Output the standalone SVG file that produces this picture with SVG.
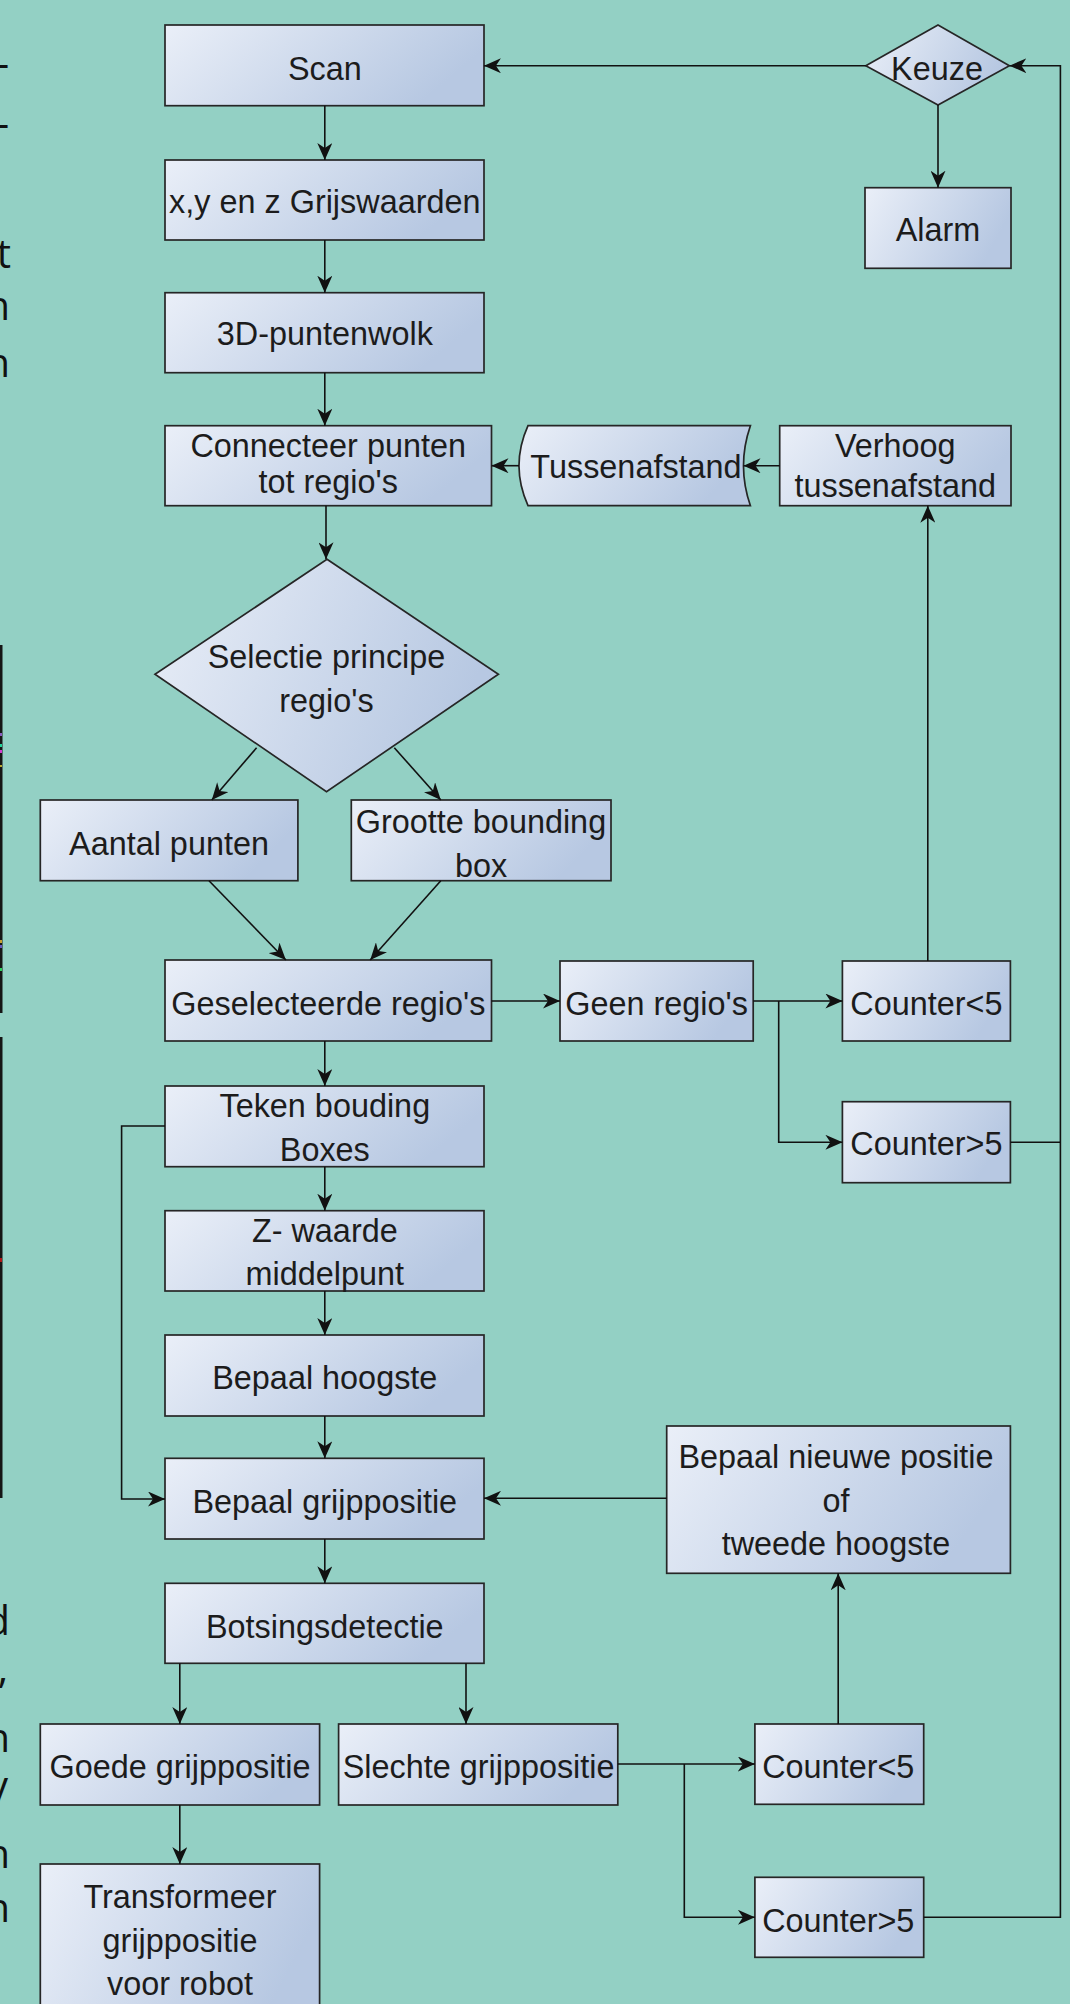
<svg xmlns="http://www.w3.org/2000/svg" width="1070" height="2004" viewBox="0 0 1070 2004">
<style>
.box{fill:url(#g);stroke:#262626;stroke-width:1.7}
.t{font-family:"Liberation Sans",Arial,sans-serif;font-size:32.4px;fill:#1c1c1c;text-anchor:middle}
.frag{font-family:"Open Sans","Noto Sans",sans-serif;font-size:40px;fill:#111;text-anchor:end}
.c{fill:none;stroke:#111;stroke-width:1.6}
.a{marker-end:url(#arr)}
</style>
<defs>
<linearGradient id="g" x1="0" y1="0" x2="1" y2="0.3">
<stop offset="0" stop-color="#eaeff8"/>
<stop offset="1" stop-color="#b7c8e2"/>
</linearGradient>
<marker id="arr" markerUnits="userSpaceOnUse" viewBox="0 0 17 15" markerWidth="17" markerHeight="15" refX="17" refY="7.5" orient="auto">
<path d="M0,0 L17,7.5 L0,15 L5,7.5 Z" fill="#111"/>
</marker>
</defs>
<rect x="0" y="0" width="1070" height="2004" fill="#93d0c4"/>

<g id="edge-fragments">
<text class="frag" x="9" y="77">-</text>
<text class="frag" x="9" y="137">-</text>
<text class="frag" x="11" y="268">t</text>
<text class="frag" x="10" y="320">n</text>
<text class="frag" x="10" y="377">n</text>
<text class="frag" x="10" y="1635">d</text>
<text class="frag" x="8" y="1683">,</text>
<text class="frag" x="10" y="1752">n</text>
<text class="frag" x="8" y="1800">y</text>
<text class="frag" x="10" y="1868">n</text>
<text class="frag" x="10" y="1922">n</text>
<rect x="0" y="645" width="2.5" height="368" fill="#151515"/>
<rect x="0" y="1037" width="2.5" height="461" fill="#151515"/>
<rect x="0" y="733" width="2" height="3" fill="#8a5cc0"/>
<rect x="0" y="744" width="2" height="3" fill="#22d39a"/>
<rect x="0" y="750" width="2" height="3" fill="#d23cd0"/>
<rect x="0" y="765" width="2" height="2" fill="#b8a830"/>
<rect x="0" y="940" width="2" height="3" fill="#c8a030"/>
<rect x="0" y="945" width="2" height="3" fill="#6a5cc0"/>
<rect x="0" y="968" width="2" height="3" fill="#30d060"/>
<rect x="0" y="1258" width="2" height="4" fill="#b01818"/>
</g>

<g id="n-scan"><rect class="box" x="165" y="25" width="319" height="80.7"/><text class="t" x="324.8" y="80">Scan</text></g>
<g id="n-xyz"><rect class="box" x="165" y="160" width="319" height="80"/><text class="t" x="324.8" y="213.3">x,y en z Grijswaarden</text></g>
<g id="n-3d"><rect class="box" x="165" y="292.7" width="319" height="80"/><text class="t" x="324.8" y="345">3D-puntenwolk</text></g>
<g id="n-connecteer"><rect class="box" x="165" y="425.7" width="326.5" height="80"/><text class="t" x="328.2" y="456.7">Connecteer punten</text><text class="t" x="328.2" y="492.7">tot regio's</text></g>
<g id="n-tussenafstand"><path class="box" d="M528,425.7 H750.4 Q736.6,465.7 750.4,505.7 H528 Q510,465.7 528,425.7 Z"/><text class="t" x="636" y="478">Tussenafstand</text></g>
<g id="n-verhoog"><rect class="box" x="779.7" y="425.7" width="231.3" height="80"/><text class="t" x="895.3" y="456.7">Verhoog</text><text class="t" x="895.3" y="496.7">tussenafstand</text></g>
<g id="n-keuze"><path class="box" d="M938,25 L1009.4,65.7 L938,105 L865.8,65.7 Z"/><text class="t" x="937" y="80">Keuze</text></g>
<g id="n-alarm"><rect class="box" x="865" y="187.7" width="146" height="80.6"/><text class="t" x="938" y="240.7">Alarm</text></g>
<g id="n-selectie"><path class="box" d="M327,559.3 L498.4,674.3 L326.5,791.7 L155,674.3 Z"/><text class="t" x="326.5" y="668.3">Selectie principe</text><text class="t" x="326.5" y="711.7">regio's</text></g>
<g id="n-aantal"><rect class="box" x="40.3" y="800" width="257.6" height="80.7"/><text class="t" x="169" y="855">Aantal punten</text></g>
<g id="n-grootte"><rect class="box" x="351.3" y="800" width="259.7" height="80.7"/><text class="t" x="481" y="833.3">Grootte bounding</text><text class="t" x="481" y="876.7">box</text></g>
<g id="n-geselecteerde"><rect class="box" x="165" y="960" width="326.5" height="81"/><text class="t" x="328.4" y="1015">Geselecteerde regio's</text></g>
<g id="n-geen"><rect class="box" x="560" y="961" width="193.2" height="80"/><text class="t" x="656.6" y="1015">Geen regio's</text></g>
<g id="n-counter-lt-1"><rect class="box" x="842.4" y="961" width="168" height="80"/><text class="t" x="926.4" y="1015">Counter&lt;5</text></g>
<g id="n-counter-gt-1"><rect class="box" x="842.4" y="1101.7" width="168" height="81"/><text class="t" x="926.4" y="1155">Counter&gt;5</text></g>
<g id="n-teken"><rect class="box" x="165" y="1086" width="319" height="80.7"/><text class="t" x="324.8" y="1117.3">Teken bouding</text><text class="t" x="324.8" y="1160.7">Boxes</text></g>
<g id="n-zwaarde"><rect class="box" x="165" y="1210.7" width="319" height="80.3"/><text class="t" x="324.8" y="1241.7">Z- waarde</text><text class="t" x="324.8" y="1285">middelpunt</text></g>
<g id="n-hoogste"><rect class="box" x="165" y="1335" width="319" height="81"/><text class="t" x="324.8" y="1389">Bepaal hoogste</text></g>
<g id="n-grijppositie"><rect class="box" x="165" y="1458.3" width="319" height="80.7"/><text class="t" x="324.8" y="1512.7">Bepaal grijppositie</text></g>
<g id="n-nieuwe"><rect class="box" x="666.7" y="1426" width="343.7" height="147.3"/><text class="t" x="836" y="1468.3">Bepaal nieuwe positie</text><text class="t" x="836" y="1511.7">of</text><text class="t" x="836" y="1555">tweede hoogste</text></g>
<g id="n-botsing"><rect class="box" x="165" y="1583.3" width="319" height="80"/><text class="t" x="324.8" y="1638">Botsingsdetectie</text></g>
<g id="n-goede"><rect class="box" x="40.3" y="1724" width="279.3" height="81"/><text class="t" x="180" y="1778.3">Goede grijppositie</text></g>
<g id="n-slechte"><rect class="box" x="338.6" y="1724" width="279.2" height="81"/><text class="t" x="478.6" y="1778.3">Slechte grijppositie</text></g>
<g id="n-transformeer"><rect class="box" x="40.3" y="1864" width="279.3" height="160"/><text class="t" x="180" y="1908.3">Transformeer</text><text class="t" x="180" y="1951.7">grijppositie</text><text class="t" x="180" y="1995">voor robot</text></g>
<g id="n-counter-lt-2"><rect class="box" x="754.9" y="1724" width="168.8" height="80.3"/><text class="t" x="838.3" y="1778.3">Counter&lt;5</text></g>
<g id="n-counter-gt-2"><rect class="box" x="754.9" y="1877.3" width="168.8" height="80"/><text class="t" x="838.3" y="1931.7">Counter&gt;5</text></g>

<g id="connectors">
<path class="c a" d="M324.8,105.7 V160"/>
<path class="c a" d="M324.8,240 V292.7"/>
<path class="c a" d="M324.8,372.7 V425.7"/>
<path class="c a" d="M326,505.7 V559.3"/>
<path class="c a" d="M256.6,747.7 L211.8,800"/>
<path class="c a" d="M394.3,747.7 L440.8,800"/>
<path class="c a" d="M209,880.7 L285.9,960"/>
<path class="c a" d="M440.8,880.7 L370.2,960"/>
<path class="c a" d="M491.5,1001 H560"/>
<path class="c a" d="M753.2,1001 H842.4"/>
<path class="c a" d="M778.7,1001 V1142.3 H842.4"/>
<path class="c a" d="M927.8,961 V505.7"/>
<path class="c a" d="M779.7,465.7 H743.5"/>
<path class="c a" d="M519,465.7 H491.5"/>
<path class="c" d="M1010.4,1142.3 H1060.4"/>
<path class="c a" d="M923.7,1917.3 H1060.4 V65.7 H1009.4"/>
<path class="c a" d="M865.8,65.7 H483.9"/>
<path class="c a" d="M938,105 V187.7"/>
<path class="c a" d="M324.8,1041 V1086"/>
<path class="c a" d="M324.8,1166.7 V1210.7"/>
<path class="c a" d="M324.8,1291 V1335"/>
<path class="c a" d="M324.8,1416 V1458.3"/>
<path class="c a" d="M165,1126 H121.6 V1499 H165"/>
<path class="c a" d="M666.7,1498.3 H484"/>
<path class="c a" d="M324.8,1539 V1583.3"/>
<path class="c a" d="M179.8,1663.3 V1724"/>
<path class="c a" d="M466,1663.3 V1724"/>
<path class="c a" d="M179.8,1805 V1864"/>
<path class="c a" d="M617.8,1764 H754.9"/>
<path class="c a" d="M684.3,1764 V1917.3 H754.9"/>
<path class="c a" d="M838.2,1724 V1573.3"/>
</g>
</svg>
